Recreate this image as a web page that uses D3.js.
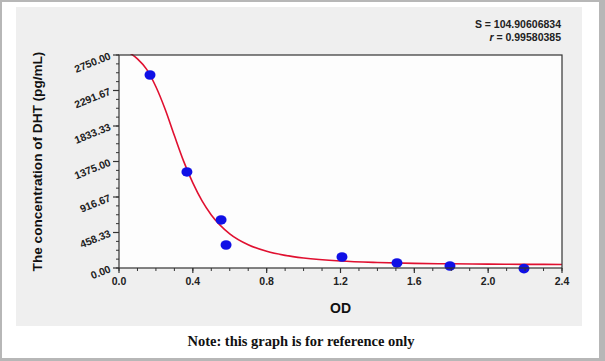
<!DOCTYPE html>
<html><head><meta charset="utf-8">
<script src="https://cdn.jsdelivr.net/npm/d3@7"></script>
<style>html,body{margin:0;padding:0;background:#b7b7b7;}svg{display:block;}</style>
</head><body>
<script>
// Data
const pointOD   = [0.168, 0.368, 0.553, 0.580, 1.208, 1.506, 1.793, 2.194];
const pointConc = [2492, 1240, 620, 297, 142, 65, 26, -8];
// fitted curve
const curveOD   = [0.05, 0.10, 0.15, 0.20, 0.25, 0.30, 0.35, 0.40, 0.45, 0.50, 0.60, 0.70, 0.80, 0.90, 1.00, 1.20, 1.40, 1.60, 1.80, 2.00, 2.20, 2.40];
const curveConc = [2790, 2700, 2565, 2340, 2050, 1710, 1380, 1098, 866, 685, 441, 300, 215, 163, 129, 90, 71, 60, 54, 50, 47, 46];
const yTicks = [0, 458.33, 916.67, 1375.00, 1833.33, 2291.67, 2750.00];
const xTicks = [0.0, 0.4, 0.8, 1.2, 1.6, 2.0, 2.4];
const statS = "S = 104.90606834";
const statR = "0.99580385";

const W = 605, H = 361;
const L = 119, R = 562, T = 55, B = 268;
const svg = d3.select("body").append("svg").attr("width", W).attr("height", H);

svg.append("rect").attr("x", 2).attr("y", 2).attr("width", 597).attr("height", 356).attr("fill", "#ffffff");
svg.append("rect").attr("x", 16).attr("y", 7).attr("width", 566).attr("height", 319).attr("fill", "#efefef");
svg.append("rect").attr("x", L).attr("y", T).attr("width", R - L).attr("height", B - T).attr("fill", "#fdfdfd");

const x = d3.scaleLinear().domain([0, 2.4]).range([L, R]);
const y = d3.scaleLinear().domain([0, 2750]).range([B, T]);

const font = "'Liberation Sans', Arial, sans-serif";

svg.append("clipPath").attr("id", "clip").append("rect")
  .attr("x", L).attr("y", T - 1).attr("width", R - L).attr("height", B - T + 8);

// curve
const curveData = curveOD.map((d, i) => [d, curveConc[i]]);
svg.append("path").datum(curveData)
  .attr("clip-path", "url(#clip)")
  .attr("fill", "none").attr("stroke", "#e01030").attr("stroke-width", 1.6)
  .attr("d", d3.line().x(d => x(d[0])).y(d => y(d[1])).curve(d3.curveMonotoneX));

// points
svg.append("g").selectAll("ellipse").data(pointOD.map((d, i) => [d, pointConc[i]])).join("ellipse")
  .attr("cx", d => x(d[0])).attr("cy", d => y(d[1])).attr("rx", 5.5).attr("ry", 4.8)
  .attr("fill", "#1010e6");

// frame
svg.append("rect").attr("x", L).attr("y", T).attr("width", R - L).attr("height", B - T)
  .attr("fill", "none").attr("stroke", "#333").attr("stroke-width", 1.2);

// y axis
const yMinor = d3.range(0, 2750 + 1, 2750 / 24);
const ya = svg.append("g").attr("transform", `translate(${L},0)`);
ya.selectAll("line.mn").data(yMinor).join("line")
  .attr("x1", -3).attr("x2", 0).attr("y1", d => y(d)).attr("y2", d => y(d))
  .attr("stroke", "#333").attr("stroke-width", 1);
ya.selectAll("line.mj").data(yTicks).join("line")
  .attr("x1", -6).attr("x2", 0).attr("y1", d => y(d)).attr("y2", d => y(d))
  .attr("stroke", "#333").attr("stroke-width", 1.2);
ya.selectAll("text").data(yTicks).join("text")
  .attr("x", -9).attr("y", d => y(d) + 4)
  .attr("transform", d => `rotate(-22,-9,${y(d)})`)
  .attr("text-anchor", "end").attr("font-family", font).attr("font-weight", "bold")
  .attr("font-size", 10.5).attr("fill", "#222")
  .text(d => d.toFixed(2));

// x axis
const xMinor = d3.range(0, 24.5, 1).map(d => d / 10);
const xa = svg.append("g").attr("transform", `translate(0,${B})`);
xa.selectAll("line.mn").data(xMinor).join("line")
  .attr("x1", d => x(d)).attr("x2", d => x(d)).attr("y1", 0).attr("y2", 3)
  .attr("stroke", "#333").attr("stroke-width", 1);
xa.selectAll("line.mj").data(xTicks).join("line")
  .attr("x1", d => x(d)).attr("x2", d => x(d)).attr("y1", 0).attr("y2", 5)
  .attr("stroke", "#333").attr("stroke-width", 1.2);
xa.selectAll("text").data(xTicks).join("text")
  .attr("x", d => x(d)).attr("y", 17)
  .attr("text-anchor", "middle").attr("font-family", font).attr("font-weight", "bold")
  .attr("font-size", 10.5).attr("fill", "#222")
  .text(d => d.toFixed(1));

// axis titles
svg.append("text").attr("x", (L + R) / 2).attr("y", 313).attr("text-anchor", "middle")
  .attr("font-family", font).attr("font-weight", "bold").attr("font-size", 14).attr("fill", "#111")
  .text("OD");
svg.append("text").attr("transform", `translate(42,${(T + B) / 2}) rotate(-90)`)
  .attr("text-anchor", "middle").attr("font-family", font).attr("font-weight", "bold")
  .attr("font-size", 13.6).attr("fill", "#111")
  .text("The concentration of DHT (pg/mL)");

// stats
svg.append("text").attr("x", 561).attr("y", 28).attr("text-anchor", "end")
  .attr("font-family", font).attr("font-weight", "bold").attr("font-size", 10.5).attr("fill", "#222")
  .text(statS);
const rt = svg.append("text").attr("x", 561).attr("y", 41).attr("text-anchor", "end")
  .attr("font-family", font).attr("font-weight", "bold").attr("font-size", 10.5).attr("fill", "#222");
rt.append("tspan").attr("font-style", "italic").text("r");
rt.append("tspan").text(" = " + statR);

// note
svg.append("text").attr("x", 301).attr("y", 346).attr("text-anchor", "middle")
  .attr("font-family", "'Liberation Serif', 'Times New Roman', serif").attr("font-weight", "bold")
  .attr("font-size", 14.5).attr("fill", "#111")
  .text("Note: this graph is for reference only");
</script>
</body></html>
